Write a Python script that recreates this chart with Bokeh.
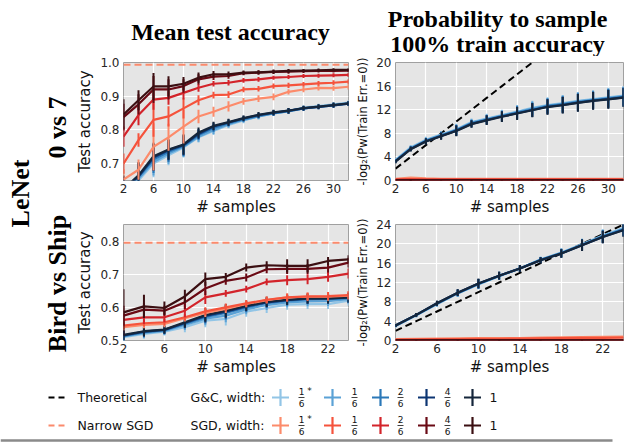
import numpy as np
from bokeh.plotting import figure
from bokeh.layouts import column, row
from bokeh.models import Range1d, FixedTicker, Span, CustomJSTickFormatter
from bokeh.core.properties import value
from bokeh.embed import file_html
from bokeh.resources import INLINE

# ---------------------------------------------------------------- data
width_labels = ["1/6*", "1/6", "2/6", "4/6", "1"]
gc_colors = ["#92c5e6", "#5ba2d6", "#2b78b8", "#0c3572", "#15263b"]
sgd_colors = ["#fc8b6b", "#f5533c", "#d3242b", "#6a0a15", "#3b0f12"]
narrow_color = "#fb8a6c"

n_07 = [2, 4, 6, 8, 10, 12, 14, 16, 18, 20, 22, 24, 26, 28, 30, 32]
n_bs = [2, 4, 6, 8, 10, 12, 14, 16, 18, 20, 22, 24]

# 0 vs 7 : mean test accuracy, G&C (widths 1/6*, 1/6, 2/6, 4/6, 1)
acc07_gc_w16s = [0.610, 0.650, 0.700, 0.725, 0.748, 0.778, 0.797, 0.815, 0.828, 0.840, 0.849, 0.856, 0.866, 0.871, 0.876, 0.881]
acc07_gc_w16 = [0.615, 0.655, 0.705, 0.730, 0.750, 0.780, 0.800, 0.817, 0.830, 0.840, 0.849, 0.855, 0.864, 0.869, 0.874, 0.879]
acc07_gc_w26 = [0.620, 0.660, 0.712, 0.735, 0.753, 0.785, 0.806, 0.820, 0.832, 0.842, 0.850, 0.856, 0.864, 0.868, 0.873, 0.878]
acc07_gc_w46 = [0.622, 0.662, 0.718, 0.740, 0.755, 0.788, 0.810, 0.822, 0.834, 0.844, 0.851, 0.857, 0.864, 0.868, 0.873, 0.878]
acc07_gc_w1 = [0.625, 0.665, 0.722, 0.742, 0.757, 0.792, 0.812, 0.823, 0.835, 0.845, 0.852, 0.857, 0.865, 0.869, 0.874, 0.879]
acc07_gc_err = [0.040, 0.040, 0.040, 0.030, 0.030, 0.015, 0.012, 0.010, 0.008, 0.008, 0.008, 0.008, 0.007, 0.007, 0.007, 0.007]

# 0 vs 7 : mean test accuracy, SGD
acc07_sgd_w16s = [0.653, 0.682, 0.750, 0.778, 0.810, 0.840, 0.854, 0.870, 0.885, 0.893, 0.898, 0.913, 0.920, 0.925, 0.924, 0.928]
acc07_sgd_w16 = [0.700, 0.770, 0.830, 0.840, 0.864, 0.888, 0.903, 0.905, 0.920, 0.922, 0.930, 0.932, 0.935, 0.938, 0.940, 0.943]
acc07_sgd_w26 = [0.780, 0.844, 0.890, 0.895, 0.910, 0.925, 0.937, 0.940, 0.947, 0.950, 0.955, 0.957, 0.960, 0.961, 0.962, 0.963]
acc07_sgd_w46 = [0.838, 0.876, 0.920, 0.920, 0.930, 0.950, 0.958, 0.960, 0.968, 0.970, 0.972, 0.973, 0.974, 0.975, 0.975, 0.976]
acc07_sgd_w1 = [0.846, 0.888, 0.929, 0.929, 0.937, 0.955, 0.965, 0.965, 0.970, 0.971, 0.973, 0.975, 0.976, 0.977, 0.978, 0.978]
acc07_sgd_err16s = [0.030, 0.030, 0.070, 0.040, 0.050, 0.020, 0.015, 0.015, 0.010, 0.010, 0.010, 0.008, 0.008, 0.008, 0.008, 0.008]
acc07_sgd_err16 = [0.030, 0.020, 0.050, 0.030, 0.030, 0.015, 0.010, 0.010, 0.008, 0.008, 0.008, 0.008, 0.007, 0.007, 0.007, 0.007]
acc07_sgd_err26 = [0.030, 0.030, 0.030, 0.020, 0.020, 0.012, 0.008, 0.008, 0.007, 0.007, 0.006, 0.006, 0.006, 0.006, 0.006, 0.006]
acc07_sgd_err46 = [0.040, 0.030, 0.040, 0.030, 0.020, 0.015, 0.010, 0.008, 0.006, 0.006, 0.006, 0.006, 0.005, 0.005, 0.005, 0.005]
acc07_sgd_err1 = [0.045, 0.030, 0.040, 0.030, 0.020, 0.015, 0.010, 0.008, 0.006, 0.006, 0.006, 0.006, 0.005, 0.005, 0.005, 0.005]
narrow_sgd_07 = 0.993

# 0 vs 7 : -log2 P(train err = 0)
lp07_gc_w16s = [3.5, 5.6, 6.9, 7.8, 8.7, 9.9, 10.5, 11.1, 11.7, 12.3, 12.8, 13.1, 13.5, 13.8, 14.1, 14.4]
lp07_gc_w16 = [3.4, 5.5, 6.8, 7.7, 8.6, 9.8, 10.4, 11.0, 11.6, 12.2, 12.7, 13.0, 13.4, 13.7, 14.0, 14.3]
lp07_gc_w26 = [3.3, 5.4, 6.7, 7.6, 8.5, 9.7, 10.3, 10.9, 11.5, 12.0, 12.6, 12.9, 13.3, 13.6, 13.9, 14.2]
lp07_gc_w46 = [3.25, 5.35, 6.65, 7.55, 8.45, 9.6, 10.25, 10.85, 11.4, 11.95, 12.5, 12.8, 13.2, 13.55, 13.8, 14.1]
lp07_gc_w1 = [3.2, 5.3, 6.6, 7.5, 8.4, 9.55, 10.2, 10.8, 11.35, 11.9, 12.45, 12.75, 13.15, 13.5, 13.75, 14.05]
lp07_gc_err = [0.3, 0.4, 0.5, 0.6, 0.9, 0.6, 0.8, 0.9, 1.1, 1.2, 1.3, 1.4, 1.5, 1.5, 1.6, 1.6]
lp07_sgd_w16s = [0.30, 0.50, 0.35, 0.30, 0.30, 0.30, 0.30, 0.30, 0.30, 0.30, 0.30, 0.30, 0.30, 0.30, 0.30, 0.30]
lp07_sgd_w16 = [0.20, 0.25, 0.20, 0.20, 0.20, 0.20, 0.20, 0.20, 0.20, 0.20, 0.20, 0.20, 0.20, 0.20, 0.20, 0.20]
lp07_sgd_w26 = [0.10, 0.10, 0.10, 0.10, 0.10, 0.10, 0.10, 0.10, 0.10, 0.10, 0.10, 0.10, 0.10, 0.10, 0.10, 0.10]
lp07_sgd_w46 = [0.05, 0.05, 0.05, 0.05, 0.05, 0.05, 0.05, 0.05, 0.05, 0.05, 0.05, 0.05, 0.05, 0.05, 0.05, 0.05]
lp07_sgd_w1 = [0.03, 0.03, 0.03, 0.03, 0.03, 0.03, 0.03, 0.03, 0.03, 0.03, 0.03, 0.03, 0.03, 0.03, 0.03, 0.03]
lp07_sgd_err = [0.05, 0.10, 0.05, 0.05, 0.05, 0.05, 0.05, 0.05, 0.05, 0.05, 0.05, 0.05, 0.05, 0.05, 0.05, 0.05]

# Bird vs Ship : mean test accuracy
accbs_gc_w16s = [0.510, 0.520, 0.527, 0.540, 0.560, 0.565, 0.587, 0.598, 0.608, 0.610, 0.610, 0.620]
accbs_gc_w16 = [0.512, 0.523, 0.529, 0.547, 0.566, 0.575, 0.594, 0.607, 0.615, 0.618, 0.619, 0.625]
accbs_gc_w26 = [0.514, 0.525, 0.531, 0.551, 0.571, 0.583, 0.600, 0.613, 0.620, 0.624, 0.625, 0.628]
accbs_gc_w46 = [0.515, 0.527, 0.532, 0.553, 0.574, 0.587, 0.603, 0.615, 0.622, 0.626, 0.627, 0.629]
accbs_gc_w1 = [0.517, 0.528, 0.533, 0.555, 0.577, 0.590, 0.605, 0.617, 0.623, 0.627, 0.627, 0.630]
accbs_gc_err = [0.015, 0.015, 0.012, 0.015, 0.020, 0.020, 0.015, 0.015, 0.015, 0.015, 0.015, 0.015]
accbs_sgd_w16s = [0.540, 0.547, 0.550, 0.567, 0.583, 0.595, 0.610, 0.622, 0.630, 0.632, 0.632, 0.635]
accbs_sgd_w16 = [0.545, 0.552, 0.555, 0.570, 0.588, 0.600, 0.612, 0.623, 0.630, 0.633, 0.634, 0.637]
accbs_sgd_w26 = [0.562, 0.570, 0.570, 0.590, 0.630, 0.642, 0.655, 0.677, 0.682, 0.685, 0.692, 0.702]
accbs_sgd_w46 = [0.575, 0.593, 0.590, 0.615, 0.657, 0.680, 0.690, 0.715, 0.716, 0.716, 0.720, 0.735]
accbs_sgd_w1 = [0.585, 0.603, 0.598, 0.633, 0.685, 0.692, 0.720, 0.727, 0.725, 0.725, 0.740, 0.745]
accbs_sgd_err16s = [0.010, 0.010, 0.010, 0.010, 0.012, 0.012, 0.010, 0.010, 0.012, 0.012, 0.012, 0.012]
accbs_sgd_err16 = [0.010, 0.010, 0.010, 0.010, 0.012, 0.012, 0.010, 0.010, 0.012, 0.012, 0.012, 0.012]
accbs_sgd_err26 = [0.020, 0.020, 0.015, 0.020, 0.020, 0.010, 0.010, 0.010, 0.015, 0.015, 0.015, 0.015]
accbs_sgd_err46 = [0.030, 0.020, 0.015, 0.020, 0.020, 0.012, 0.012, 0.012, 0.015, 0.015, 0.015, 0.015]
accbs_sgd_err1 = [0.070, 0.035, 0.020, 0.020, 0.020, 0.012, 0.012, 0.012, 0.020, 0.020, 0.012, 0.012]
narrow_sgd_bs = 0.795

# Bird vs Ship : -log2 P(train err = 0)
lpbs_gc_w16s = [3.0, 5.2, 7.5, 9.7, 11.6, 13.3, 14.9, 16.8, 18.2, 19.9, 21.7, 23.3]
lpbs_gc_w16 = [3.0, 5.2, 7.6, 9.8, 11.7, 13.3, 14.9, 16.7, 18.1, 19.8, 21.6, 23.1]
lpbs_gc_w26 = [3.1, 5.3, 7.6, 9.8, 11.7, 13.4, 14.9, 16.7, 18.1, 19.8, 21.5, 23.0]
lpbs_gc_w46 = [3.1, 5.3, 7.7, 9.9, 11.8, 13.4, 14.9, 16.6, 18.0, 19.7, 21.4, 22.9]
lpbs_gc_w1 = [3.1, 5.3, 7.7, 9.9, 11.8, 13.4, 14.9, 16.6, 18.0, 19.7, 21.4, 22.8]
lpbs_gc_err = [0.3, 0.4, 0.5, 0.7, 1.0, 0.8, 0.7, 0.6, 0.9, 1.2, 1.3, 1.4]
lpbs_sgd_w16s = [0.30, 0.35, 0.40, 0.45, 0.50, 0.50, 0.50, 0.60, 0.65, 0.70, 0.75, 0.80]
lpbs_sgd_w16 = [0.20, 0.25, 0.30, 0.30, 0.35, 0.35, 0.40, 0.45, 0.50, 0.55, 0.55, 0.60]
lpbs_sgd_w26 = [0.10, 0.10, 0.10, 0.10, 0.10, 0.10, 0.10, 0.10, 0.10, 0.10, 0.10, 0.10]
lpbs_sgd_w46 = [0.05, 0.05, 0.05, 0.05, 0.05, 0.05, 0.05, 0.05, 0.05, 0.05, 0.05, 0.05]
lpbs_sgd_w1 = [0.03, 0.03, 0.03, 0.03, 0.03, 0.03, 0.03, 0.03, 0.03, 0.03, 0.03, 0.03]
lpbs_sgd_err = [0.05, 0.05, 0.05, 0.05, 0.05, 0.05, 0.05, 0.05, 0.05, 0.05, 0.05, 0.05]

# theoretical bound: -log2 P = number of samples
theory_07 = list(n_07)
theory_bs = list(n_bs)

acc_ticks_07 = [0.7, 0.8, 0.9, 1.0]
acc_ticks_bs = [0.5, 0.6, 0.7, 0.8]
lp_ticks_07 = [0, 4, 8, 12, 16, 20]
lp_ticks_bs = [0, 4, 8, 12, 16, 20, 24]
n_ticks_07 = [2, 6, 10, 14, 18, 22, 26, 30]
n_ticks_bs = [2, 6, 10, 14, 18, 22]

SANS = value("DejaVu Sans")
SERIF = value("Liberation Serif")


def panel(xs, gc, sgd, xr, yr, xticks, yticks, ylabel, ylabel_size, w, h,
          left, right, top, bottom, narrow=None, theory=None, fmt=None):
    p = figure(width=w, height=h, x_range=Range1d(*xr), y_range=Range1d(*yr),
               output_backend="svg", toolbar_location=None,
               min_border_left=left, min_border_right=right,
               min_border_top=top, min_border_bottom=bottom)
    p.background_fill_color = "#e5e5e5"
    p.border_fill_color = "white"
    p.outline_line_color = "#a0a0a0"
    p.outline_line_width = 1
    p.grid.grid_line_color = "white"
    p.grid.grid_line_width = 1.2
    p.xaxis.ticker = FixedTicker(ticks=xticks)
    p.yaxis.ticker = FixedTicker(ticks=yticks)
    if fmt is not None:
        p.yaxis.formatter = CustomJSTickFormatter(code=fmt)
    for ax in (p.xaxis, p.yaxis):
        ax.axis_line_color = None
        ax.major_tick_line_color = None
        ax.minor_tick_line_color = None
        ax.major_tick_out = 0
        ax.major_tick_in = 0
        ax.minor_tick_out = 0
        ax.minor_tick_in = 0
        ax.major_label_text_font = "DejaVu Sans"
        ax.major_label_text_font_size = "12px"
        ax.major_label_text_color = "#262626"
        ax.axis_label_text_font = "DejaVu Sans"
        ax.axis_label_text_font_style = "normal"
        ax.axis_label_text_color = "#111111"
    p.xaxis.axis_label = "# samples"
    p.xaxis.axis_label_text_font_size = "15px"
    p.xaxis.major_label_standoff = 3
    p.xaxis.axis_label_standoff = 2
    p.yaxis.axis_label = ylabel
    p.yaxis.axis_label_text_font_size = ylabel_size
    p.yaxis.major_label_standoff = 4
    p.yaxis.axis_label_standoff = 3

    if theory is not None:
        p.line(xs, theory, color="black", line_width=2, line_dash="7 4")
    if narrow is not None:
        p.add_layout(Span(location=narrow, dimension="width", line_color=narrow_color,
                          line_width=2, line_dash="7 4"))

    for series, colors in ((gc, gc_colors), (sgd, sgd_colors)):
        for (mean, err), c in zip(series, colors):
            lo = [m - e for m, e in zip(mean, err)]
            hi = [m + e for m, e in zip(mean, err)]
            p.line(xs, mean, color=c, line_width=2.2)
            p.segment(xs, lo, xs, hi, color=c, line_width=2)
    return p


LP_LABEL = "-log\u2082(P\u1d21(Train Err.=0))"

acc07 = panel(
    n_07,
    [(acc07_gc_w16s, acc07_gc_err), (acc07_gc_w16, acc07_gc_err), (acc07_gc_w26, acc07_gc_err),
     (acc07_gc_w46, acc07_gc_err), (acc07_gc_w1, acc07_gc_err)],
    [(acc07_sgd_w16s, acc07_sgd_err16s), (acc07_sgd_w16, acc07_sgd_err16), (acc07_sgd_w26, acc07_sgd_err26),
     (acc07_sgd_w46, acc07_sgd_err46), (acc07_sgd_w1, acc07_sgd_err1)],
    (2, 32), (0.65, 1.0), n_ticks_07, acc_ticks_07, "Test accuracy", "15px",
    280, 162, 42, 5, 6, 37, narrow=narrow_sgd_07, fmt="return tick.toFixed(1)")

lp07 = panel(
    n_07,
    [(lp07_gc_w16s, lp07_gc_err), (lp07_gc_w16, lp07_gc_err), (lp07_gc_w26, lp07_gc_err),
     (lp07_gc_w46, lp07_gc_err), (lp07_gc_w1, lp07_gc_err)],
    [(lp07_sgd_w16s, lp07_sgd_err), (lp07_sgd_w16, lp07_sgd_err), (lp07_sgd_w26, lp07_sgd_err),
     (lp07_sgd_w46, lp07_sgd_err), (lp07_sgd_w1, lp07_sgd_err)],
    (2, 32), (0, 20), n_ticks_07, lp_ticks_07, LP_LABEL, "11.5px",
    275, 162, 38, 5, 6, 37, theory=theory_07)

accbs = panel(
    n_bs,
    [(accbs_gc_w16s, accbs_gc_err), (accbs_gc_w16, accbs_gc_err), (accbs_gc_w26, accbs_gc_err),
     (accbs_gc_w46, accbs_gc_err), (accbs_gc_w1, accbs_gc_err)],
    [(accbs_sgd_w16s, accbs_sgd_err16s), (accbs_sgd_w16, accbs_sgd_err16), (accbs_sgd_w26, accbs_sgd_err26),
     (accbs_sgd_w46, accbs_sgd_err46), (accbs_sgd_w1, accbs_sgd_err1)],
    (2, 24), (0.5, 0.85), n_ticks_bs, acc_ticks_bs, "Test accuracy", "15px",
    280, 160, 42, 5, 6, 37, narrow=narrow_sgd_bs, fmt="return tick.toFixed(1)")

lpbs = panel(
    n_bs,
    [(lpbs_gc_w16s, lpbs_gc_err), (lpbs_gc_w16, lpbs_gc_err), (lpbs_gc_w26, lpbs_gc_err),
     (lpbs_gc_w46, lpbs_gc_err), (lpbs_gc_w1, lpbs_gc_err)],
    [(lpbs_sgd_w16s, lpbs_sgd_err), (lpbs_sgd_w16, lpbs_sgd_err), (lpbs_sgd_w26, lpbs_sgd_err),
     (lpbs_sgd_w46, lpbs_sgd_err), (lpbs_sgd_w1, lpbs_sgd_err)],
    (2, 24), (0, 24), n_ticks_bs, lp_ticks_bs, LP_LABEL, "11.5px",
    275, 160, 38, 5, 6, 37, theory=theory_bs)


def canvas(w, h):
    p = figure(width=w, height=h, x_range=Range1d(0, w), y_range=Range1d(h, 0),
               output_backend="svg", toolbar_location=None, min_border=0,
               x_axis_type=None, y_axis_type=None)
    p.outline_line_color = None
    p.background_fill_color = "white"
    p.border_fill_color = "white"
    return p


# column titles
header = canvas(627, 56)
title_style = dict(text_font=SERIF, text_font_style="bold", text_font_size="24px",
                   text_align="center", text_baseline="middle", text_color="black")
header.text(x=[230], y=[31], text=["Mean test accuracy"], **title_style)
header.text(x=[497, 497], y=[18, 43], text=["Probability to sample", "100% train accuracy"], **title_style)

# row labels
side = canvas(73, 322)
row_style = dict(text_font=SERIF, text_font_style="bold", text_font_size="26px",
                 text_align="center", text_baseline="middle", text_color="black",
                 angle=np.pi / 2)
side.text(x=[20], y=[137], text=["LeNet"], **row_style)
side.text(x=[57, 57], y=[71, 227], text=["0 vs 7", "Bird vs Ship"], **row_style)

# legend
leg = canvas(627, 66)
txt = dict(text_font=SANS, text_font_size="12.5px", text_baseline="middle", text_color="#111111")
leg.segment(x0=[48, 48], y0=[19, 47], x1=[68, 68], y1=[19, 47],
            color=["black", narrow_color], line_width=2, line_dash="6 4")
leg.text(x=[77, 77], y=[19, 47], text=["Theoretical", "Narrow SGD"], **txt)
leg.text(x=[190, 190], y=[19, 47], text=["G&C, width:", "SGD, width:"], **txt)
cross_x = [280, 332, 380, 426, 472]
frac_x = [301, 354, 400, 447]
small = dict(text_font=SANS, text_font_size="9px", text_align="center",
             text_baseline="middle", text_color="#111111")
nums = [lbl.split("/")[0] for lbl in width_labels[:4]]
dens = [lbl.split("/")[1].rstrip("*") for lbl in width_labels[:4]]
for yrow, colors in ((19, gc_colors), (47, sgd_colors)):
    leg.scatter(x=cross_x, y=[yrow] * 5, marker="cross", size=17, line_width=2.2, color=colors)
    leg.text(x=frac_x, y=[yrow - 6] * 4, text=nums, **small)
    leg.text(x=frac_x, y=[yrow + 6] * 4, text=dens, **small)
    leg.segment(x0=[fx - 3 for fx in frac_x], y0=[yrow] * 4, x1=[fx + 3 for fx in frac_x], y1=[yrow] * 4,
                color="#111111", line_width=0.8)
    leg.text(x=[frac_x[0] + 8], y=[yrow - 7], text=["*"], **small)
    leg.text(x=[493], y=[yrow], text=[width_labels[4]], text_align="center", **txt)
leg.segment(x0=[0], y0=[62], x1=[612], y1=[62], color="#8a8a8a", line_width=2.5)

grid = column(row(acc07, lp07, spacing=0), row(accbs, lpbs, spacing=0), spacing=0)
layout = column(header, row(side, grid, spacing=0), leg, spacing=0)

open("out.html", "w").write(file_html(layout, INLINE))
